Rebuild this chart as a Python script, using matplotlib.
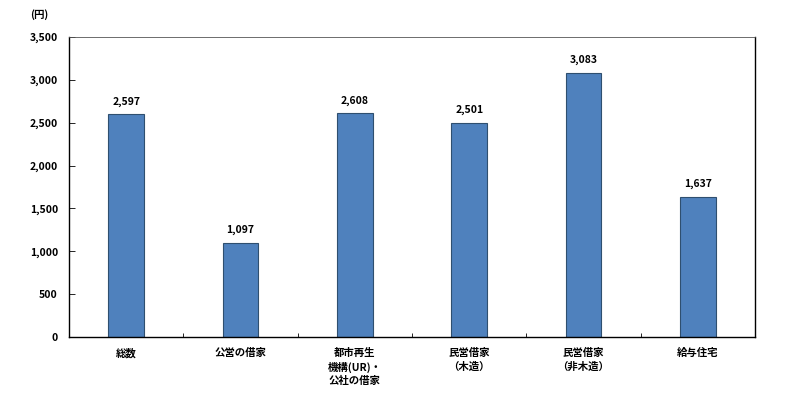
import matplotlib
matplotlib.use("Agg")
import matplotlib.pyplot as plt
import numpy as np

plt.rcParams['font.family'] = ['Noto Sans CJK JP', 'DejaVu Sans']

# Data
categories = ["総数", "公営の借家", "都市再生\n機構(UR)・\n公社の借家", "民営借家\n（木造）", "民営借家\n（非木造）", "給与住宅"]
values = [2597, 1097, 2608, 2501, 3083, 1637]
yticks = [0, 500, 1000, 1500, 2000, 2500, 3000, 3500]

fig = plt.figure(figsize=(8, 3.97), dpi=100)
ax = fig.add_axes([0.08625, 0.151, 0.8575, 0.756])

x = np.arange(len(categories))
ax.bar(x, values, width=0.31, color="#4F81BD", edgecolor="#2F4F6F", linewidth=0.8, zorder=2)

for xi, v in zip(x, values):
    ax.text(xi, v + 90, format(v, ","), ha="center", va="bottom", fontsize=7.5, fontweight="bold")

ax.set_xlim(-0.5, len(categories) - 0.5)
ax.set_ylim(0, 3500)
ax.set_yticks(yticks)
ax.set_yticklabels([format(t, ",") for t in yticks], fontsize=7.5, fontweight="bold")
ax.tick_params(axis="y", direction="in", length=4, width=0.6, pad=8)

ax.set_xticks(x)
ax.set_xticklabels(categories, fontsize=7.5, fontweight="bold", linespacing=1.4, va="top")
ax.tick_params(axis="x", which="major", length=0, pad=8)
ax.set_xticks(np.arange(0.5, len(categories) - 0.5, 1), minor=True)
ax.tick_params(axis="x", which="minor", direction="in", length=3, width=0.6)

for side in ["left", "bottom", "right"]:
    ax.spines[side].set_linewidth(1.0)
ax.spines["top"].set_linewidth(0.6)
ax.spines["top"].set_linestyle((0, (1, 1)))
ax.spines["top"].set_color("#555555")

fig.text(0.038, 0.962, "(円)", fontsize=7.5, fontweight="bold", ha="left", va="center")

fig.savefig("out.png", dpi=100)
